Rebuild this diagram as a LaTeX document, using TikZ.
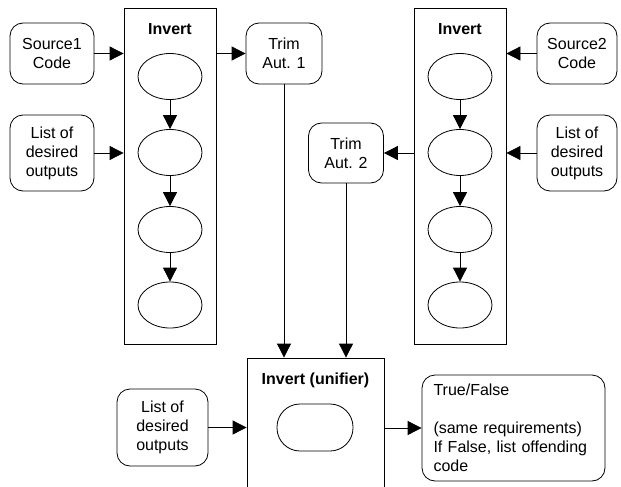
\documentclass[tikz,border=0pt]{standalone}
\usepackage{fontspec}
\setmainfont{Liberation Sans}
\usetikzlibrary{arrows.meta,shapes.geometric}

\tikzset{
	every node/.style={font=\fontsize{16}{19}\selectfont},
	inbox/.style={draw, rounded corners=13pt, align=center, minimum width=84pt, minimum height=61pt, inner sep=2pt},
	stage/.style={draw, ellipse, minimum width=64pt, minimum height=46pt, inner sep=0pt},
	phase/.style={draw, minimum width=92pt, minimum height=336pt},
	title/.style={font=\fontsize{16}{19}\selectfont\bfseries},
	arr/.style={-{Triangle[length=14pt,width=14pt]}},
}

\begin{document}
\begin{tikzpicture}[x=1pt, y=1pt, line width=0.8pt]
			\useasboundingbox (0,0) rectangle (621,-487);

			% first inversion
			\node[phase] (inv1) at (170,-176) {};
			\node[title] (inv1t) at (170,-29) {Invert};
			\node[stage] (a1) at (170,-76.5) {};
			\node[stage] (a2) at (170,-152.5) {};
			\node[stage] (a3) at (170,-229.5) {};
			\node[stage] (a4) at (170,-305) {};
			\node[inbox] (src1) at (52,-53.5) {Source1\\Code};
			\node[inbox, minimum height=76pt] (out1) at (52,-153) {List of\\desired\\outputs};
			\node[inbox, minimum width=76pt] (trim1) at (284,-53.5) {Trim\\Aut. 1};

			% second inversion
			\node[phase] (inv2) at (460,-176) {};
			\node[title] (inv2t) at (460,-29) {Invert};
			\node[stage] (b1) at (460,-76.5) {};
			\node[stage] (b2) at (460,-152.5) {};
			\node[stage] (b3) at (460,-229.5) {};
			\node[stage] (b4) at (460,-305) {};
			\node[inbox, minimum width=80pt] (src2) at (577,-53.5) {Source2\\Code};
			\node[inbox, minimum width=80pt, minimum height=76pt] (out2) at (577,-153) {List of\\desired\\outputs};
			\node[inbox, minimum width=75pt, minimum height=60pt] (trim2) at (346,-153) {Trim\\Aut. 2};

			% unifier
			\node[draw, minimum width=137pt, minimum height=150pt] (unif) at (315.5,-433) {};
			\node[title] (unift) at (315.5,-380) {Invert (unifier)};
			\node[draw, minimum width=76pt, minimum height=47pt, rounded corners=23pt] (u1) at (315,-427.5) {};
			\node[inbox, minimum width=91pt, minimum height=77pt] (out3) at (162.5,-427.5) {List of\\desired\\outputs};
			\node[inbox, minimum width=183pt, minimum height=106pt, text width=160pt, align=left] (result) at (513.5,-428)
				{True/False\\[19pt](same requirements)\\If False, list offending\\code};

			\draw[arr] (src1) -- (src1 -| inv1.west);
			\draw[arr] (out1) -- (out1 -| inv1.west);
			\draw[arr] (inv1.east |- trim1) -- (trim1);
			\draw[arr] (a1) -- (a2);
			\draw[arr] (a2) -- (a3);
			\draw[arr] (a3) -- (a4);

			\draw[arr] (src2) -- (src2 -| inv2.east);
			\draw[arr] (out2) -- (out2 -| inv2.east);
			\draw[arr] (inv2.west |- trim2) -- (trim2);
			\draw[arr] (b1) -- (b2);
			\draw[arr] (b2) -- (b3);
			\draw[arr] (b3) -- (b4);

			\draw[arr] (trim1) -- (trim1 |- unif.north);
			\draw[arr] (trim2) -- (trim2 |- unif.north);
			\draw[arr] (out3) -- (out3 -| unif.west);
			\draw[arr] (unif.east |- result) -- (result);
		\end{tikzpicture}
\end{document}
